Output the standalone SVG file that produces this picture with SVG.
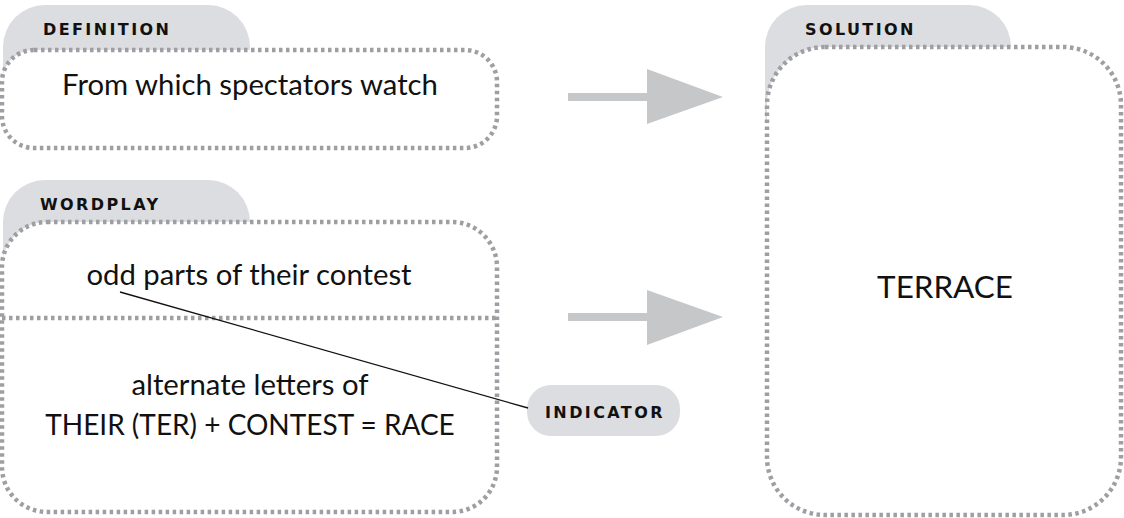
<svg xmlns="http://www.w3.org/2000/svg" width="1124" height="518" viewBox="0 0 1124 518">
<style>
.tab{fill:#dcdde0}
.box{fill:#fff;stroke:#9e9fa3;stroke-width:4.5;stroke-dasharray:3.5 3.5}
.lbl{font-family:"DejaVu Sans",sans-serif;font-weight:bold;font-size:16px;letter-spacing:2.4px;fill:#111}
.txt{font-family:Lato,"Liberation Sans",sans-serif;font-size:29.3px;fill:#111;text-anchor:middle}
.arr{fill:#c6c7c9}
</style>
<g id="definition">
<rect class="tab" x="3" y="5" width="247" height="120" rx="42"/>
<rect class="box" x="2" y="50" width="495" height="98" rx="32"/>
<text class="lbl" x="43" y="35">DEFINITION</text>
<text class="txt" x="250" y="95">From which spectators watch</text>
</g>
<g id="wordplay">
<rect class="tab" x="3" y="180" width="247" height="120" rx="42"/>
<rect class="box" x="2" y="222" width="495" height="290" rx="45"/>
<line class="box" x1="2" y1="318" x2="497" y2="318"/>
<text class="lbl" x="40" y="210">WORDPLAY</text>
<text class="txt" x="249" y="285">odd parts of their contest</text>
<text class="txt" x="250" y="395">alternate letters of</text>
<text class="txt" x="250" y="435" style="font-size:28px">THEIR (TER) + CONTEST = RACE</text>
</g>
<g id="solution">
<rect class="tab" x="765" y="5" width="246" height="150" rx="42"/>
<rect class="box" x="767" y="47" width="354" height="468" rx="58"/>
<text class="lbl" x="805" y="35">SOLUTION</text>
<text class="txt" x="945" y="298" style="font-size:31.4px">TERRACE</text>
</g>
<g id="indicator">
<rect class="tab" x="527" y="385" width="153" height="51" rx="24"/>
<text class="lbl" x="545" y="418">INDICATOR</text>
</g>
<g id="connectors">
<line x1="120" y1="292" x2="528" y2="408" stroke="#111" stroke-width="1.3"/>
<rect class="arr" x="568" y="93" width="80" height="8"/>
<polygon class="arr" points="647,69 723,97 647,124"/>
<rect class="arr" x="568" y="313" width="80" height="8"/>
<polygon class="arr" points="647,290 723,317 647,345"/>
</g>
</svg>
